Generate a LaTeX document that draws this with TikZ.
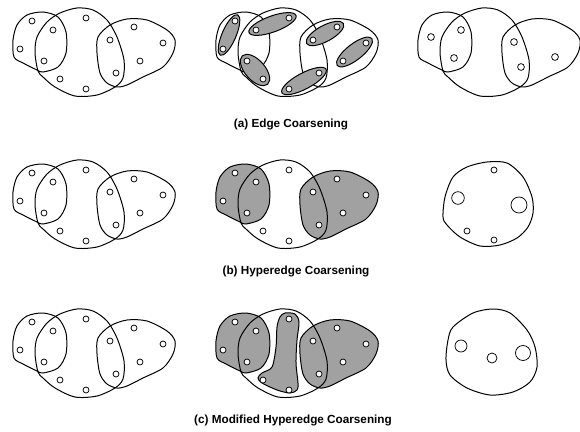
\documentclass[tikz,border=0pt]{standalone}
\usepackage{fontspec}
\setmainfont{Liberation Sans}
\definecolor{shade}{gray}{0.63}
\tikzset{
  hedge/.style={draw=black},
  shaded/.style={fill=shade},
  vert/.style={draw=black,fill=white,line width=0.55pt},
  caption/.style={font=\fontsize{8.8}{10}\selectfont\bfseries, inner sep=0pt}
}
\newcommand{\hypEone}[1]{\path[#1] plot[smooth cycle] coordinates {(14,57) (13,40) (17,25) (27,15) (43,12) (58,17) (66,32) (66,53) (58,67) (43,72) (37,70) (23,63)};}
\newcommand{\hypEthree}[1]{\path[#1] plot[smooth cycle] coordinates {(38,71) (35,53) (37,37) (47,22) (60,13) (77,8) (93,10) (107,20) (117,37) (124,60) (123,78) (115,87) (97,95) (75,96) (55,87) (43,77)};}
\newcommand{\hypEfour}[1]{\path[#1] plot[smooth cycle] coordinates {(110,25) (98,37) (97,53) (100,73) (107,83) (117,87) (127,85) (143,77) (163,67) (173,53) (175,40) (167,30) (147,20) (127,19)};}
\newcommand{\hypMid}[1]{\path[#1] plot[smooth cycle] coordinates {(77,16) (82,12) (92,13) (96,21) (94,39) (93,62) (95,82) (94,89) (87,92) (74,89) (59,82) (55,77) (59,72) (69,66) (73,46) (74,26)};}
\newcommand{\baseoutlines}{\hypEone{hedge}\hypEthree{hedge}\hypEfour{hedge}}
\newcommand{\basevertices}{\foreach \a/\b in {32/21,53/30,20/49,44/61,86/18,60/79,86/89,110/40,116/73,134/27,163/43,140/61} {\draw[vert] (\a,\b) circle[radius=3];}}
\newcommand{\pairell}[5]{\path[draw=black,fill=shade,shift={(#1,#2)},rotate=#3] (0,0) ellipse [x radius=#4, y radius=#5];}
\begin{document}
\begin{tikzpicture}[x=0.75pt,y=-0.75pt,line width=0.75pt]
\useasboundingbox (0,0) rectangle (580,431);
% ---------- row (a) ----------
\begin{scope}
  \baseoutlines
  \basevertices
\end{scope}
\begin{scope}[shift={(203,0)}]
  \baseoutlines
  \pairell{26}{35}{66.8}{22}{7}
  \pairell{69.5}{24}{20}{25}{8}
  \pairell{52}{70}{-48.4}{19}{10}
  \pairell{101}{81}{28}{25}{8}
  \pairell{122}{33.5}{28.4}{21}{8}
  \pairell{151.5}{52}{38}{22}{8}
  \basevertices
\end{scope}
\begin{scope}[shift={(405,0)}]
  \baseoutlines
  \foreach \a/\b in {26/37,56/30,49/58,109/42,116/67,150/57} {\draw[vert] (\a,\b) circle[radius=3.4];}
\end{scope}
\node[caption] (capa) at (291,124) {(a) Edge Coarsening};
% ---------- row (b) ----------
\begin{scope}[shift={(0,152)}]
  \baseoutlines
  \basevertices
\end{scope}
\begin{scope}[shift={(203,152)}]
  \hypEone{shaded}
  \hypEfour{shaded}
  \baseoutlines
  \basevertices
\end{scope}
\path[hedge] plot[smooth cycle] coordinates {(443,217) (445,197) (453,177) (467,167) (487,162) (507,163) (523,177) (532,197) (533,213) (528,227) (517,238) (500,245) (480,246) (460,237) (447,225)};
\draw[vert] (494,170) circle[radius=3];
\draw[vert] (458,198) circle[radius=6.3];
\draw[vert] (519,205) circle[radius=8];
\draw[vert] (467,231) circle[radius=3];
\draw[vert] (494,240) circle[radius=3];
\node[caption] (capb) at (296,271) {(b) Hyperedge Coarsening};
% ---------- row (c) ----------
\begin{scope}[shift={(0,301)}]
  \baseoutlines
  \basevertices
\end{scope}
\begin{scope}[shift={(203,301)}]
  \hypEone{shaded}
  \hypEfour{shaded}
  \hypMid{shaded}
  \baseoutlines
  \hypMid{hedge}
  \basevertices
\end{scope}
\path[hedge] plot[smooth cycle] coordinates {(453,327) (473,313) (493,309) (510,313) (527,330) (535,347) (537,367) (530,382) (513,392) (490,395) (467,388) (450,375) (446,360) (448,340)};
\draw[vert] (461,346) circle[radius=6];
\draw[vert] (492,358) circle[radius=5];
\draw[vert] (523,353) circle[radius=7.5];
\node[caption] (capc) at (293,420) {(c) Modified Hyperedge Coarsening};
\end{tikzpicture}
\end{document}
